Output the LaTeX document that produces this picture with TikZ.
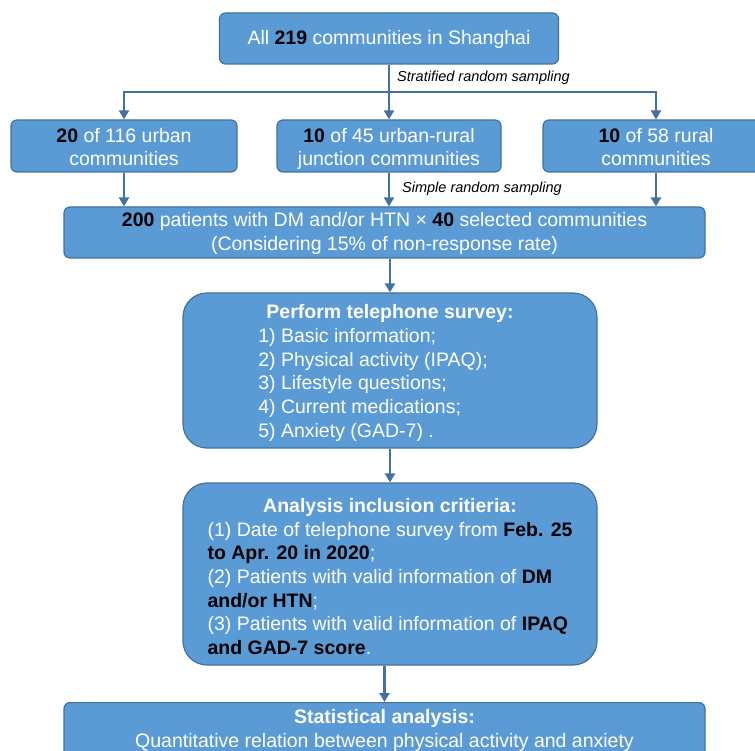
\documentclass[tikz,border=0pt]{standalone}
\usepackage{fontspec}
\setmainfont{Liberation Sans}
\usepackage{tikz}
\usetikzlibrary{arrows.meta, positioning, calc}
\definecolor{azulCaja}{RGB}{91, 155, 213}
\definecolor{azulBorde}{RGB}{65, 113, 156}
\definecolor{azulFlecha}{RGB}{68, 114, 160}
\newcommand{\resalta}[1]{\textbf{\textcolor{black}{#1}}}
\newcommand{\arriba}[1]{\rule{0pt}{#1}}
\newcommand{\abajo}[1]{\rule[-#1]{0pt}{0pt}}

\begin{document}
\begin{tikzpicture}[x=1pt, y=-1pt,
            caja/.style={rectangle, rounded corners=6pt, draw=azulBorde, line width=1.2pt, fill=azulCaja, text=white, align=center, inner xsep=2pt, inner ysep=0pt, font=\fontsize{19.5}{23.7}\selectfont},
            cajaredonda/.style={caja, rounded corners=24pt},
            flecha/.style={-{Triangle[length=9pt, width=10pt]}, line width=2.4pt, azulFlecha},
            linea/.style={line width=2.4pt, azulFlecha},
            nota/.style={anchor=west, inner sep=0pt, font=\fontsize{14.5}{17}\selectfont\itshape}]

            \useasboundingbox (0,0) rectangle (755,751);

            \node[caja, minimum width=339pt, minimum height=51pt] (todas) at (389,38.5) {\arriba{20pt}All \resalta{219} communities in Shanghai\strut};

            \node[caja, minimum width=226pt, minimum height=52pt] (urb) at (124,146) {\arriba{21pt}\resalta{20} of 116 urban\\communities\abajo{5pt}};
            \node[caja, minimum width=224pt, minimum height=52pt] (mix) at (389,146) {\arriba{21pt}\resalta{10} of 45 urban-rural\\junction communities\abajo{5pt}};
            \node[caja, minimum width=226pt, minimum height=52pt] (rur) at (656,146) {\arriba{21pt}\resalta{10} of 58 rural\\communities\abajo{5pt}};

            \node[caja, minimum width=641pt, minimum height=51pt] (pac) at (384.5,232.5) {\arriba{19pt}\resalta{200} patients with DM and/or HTN × \resalta{40} selected communities\\(Considering 15\% of non-response rate)\strut};

            \node[cajaredonda, minimum width=414pt, minimum height=155pt] (enc) at (390,370.5) {\arriba{22pt}\textbf{Perform telephone survey:}\\
                \begin{tabular}[t]{@{}l@{\hspace{34pt}}}
                1) Basic information;\\
                2) Physical activity (IPAQ);\\
                3) Lifestyle questions;\\
                4) Current medications;\\
                5) Anxiety (GAD-7) .
                \end{tabular}};

            \node[cajaredonda, minimum width=414pt, minimum height=182pt] (crit) at (390,574) {\arriba{26pt}\textbf{Analysis inclusion critieria:}\\
                \begin{tabular}[t]{@{}l@{}}
                (1) Date of telephone survey from \resalta{Feb. 25}\\
                \resalta{to Apr. 20 in 2020};\\
                (2) Patients with valid information of \resalta{DM}\\
                \resalta{and/or HTN};\\
                (3) Patients with valid information of \resalta{IPAQ}\\
                \resalta{and GAD-7 score}.
                \end{tabular}};

            \node[caja, anchor=north, minimum width=641pt, minimum height=54pt] (est) at (384.5,702) {\arriba{19pt}\textbf{Statistical analysis:}\\Quantitative relation between physical activity and anxiety\strut};

            % ramas del muestreo
            \coordinate (rama) at (389,92);
            \draw[linea] (todas.south) -- (rama);
            \draw[flecha] (rama) -| (urb.north);
            \draw[flecha] (rama) -- (mix.north);
            \draw[flecha] (rama) -| (rur.north);
            \node[nota] (estrat) at (397,78) {Stratified random sampling};

            \draw[flecha] (urb.south) -- (urb.south |- pac.north);
            \draw[flecha] (mix.south) -- (mix.south |- pac.north);
            \draw[flecha] (rur.south) -- (rur.south |- pac.north);
            \node[nota] (simple) at (402,189) {Simple random sampling};

            \draw[flecha] (enc.north |- pac.south) -- (enc.north);
            \draw[flecha] (enc.south) -- (crit.north);
            \draw[flecha] (crit.south -| est.north) -- (est.north);
        \end{tikzpicture}
\end{document}
